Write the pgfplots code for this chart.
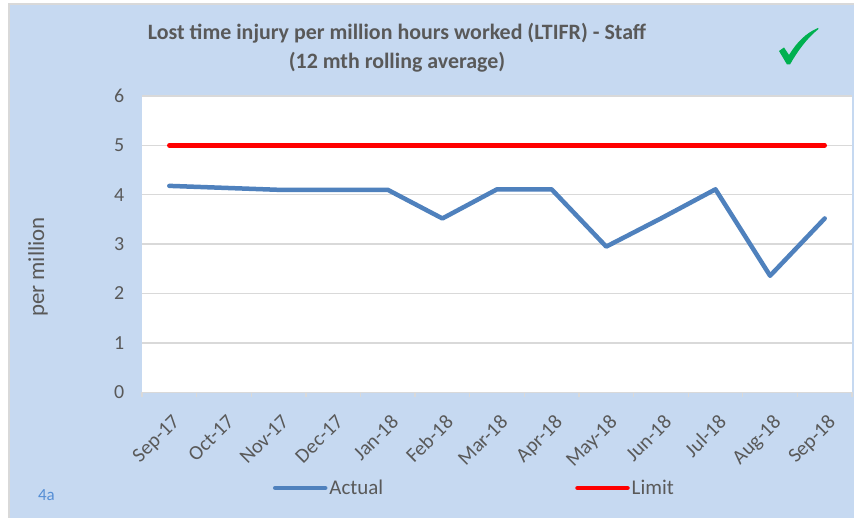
\documentclass[border=0pt]{standalone}
\usepackage{pgfplots}
\pgfplotsset{compat=1.18}
\usepackage{fontspec}
\setmainfont{Carlito}
\definecolor{bgblue}{HTML}{C6D9F1}
\definecolor{actblue}{HTML}{4F81BD}
\definecolor{txtgray}{HTML}{595959}
\definecolor{gridgray}{HTML}{D9D9D9}
\definecolor{chk}{HTML}{00B050}
\definecolor{lbl}{HTML}{558ED5}
\begin{document}
\begin{tikzpicture}[x=1bp,y=1bp]
\useasboundingbox (0,0) rectangle (854,518);
\fill[white] (0,0) rectangle (854,518);
\fill[bgblue] (9,0) rectangle (854,514);
\draw[gridgray, line width=1.5bp] (9,0) -- (9,514) -- (854,514);
\node[font=\fontsize{22}{29}\selectfont\bfseries, text=txtgray, align=center] at (397,470.5)
  {Lost time injury per million hours worked (LTIFR) - Staff\\(12 mth rolling average)};
\node[font=\fontsize{17}{18}\selectfont, text=lbl] at (46.5,23) {4a};
\fill[chk] (779,467) -- (784,470.5) -- (789,463) .. controls (797,476) and (806,485) .. (818,490)
  -- (818.5,489) .. controls (807,480) and (797,466) .. (790,453.5) -- (787,453.5) -- cycle;
\begin{axis}[
  at={(142bp,125.7bp)}, anchor=south west,
  scale only axis, width=710bp, height=296.3bp,
  xmin=-0.5, xmax=12.5, ymin=0, ymax=6,
  axis background/.style={fill=white},
  axis line style={draw=none},
  xtick={0,...,12},
  xticklabels={Sep-17,Oct-17,Nov-17,Dec-17,Jan-18,Feb-18,Mar-18,Apr-18,May-18,Jun-18,Jul-18,Aug-18,Sep-18},
  minor xtick={-0.5,0.5,...,12.5},
  xtick pos=bottom, tick align=outside,
  major x tick style={draw=none},
  minor x tick style={draw=gridgray, line width=1.3bp},
  minor tick length=5bp,
  ytick={0,1,...,6},
  ytick style={draw=none},
  ymajorgrids, grid style={draw=gridgray, line width=1.3bp},
  /pgf/number format/assume math mode=true,
  yticklabel style={font=\fontsize{20}{22}\selectfont, text=txtgray, xshift=-10bp},
  xticklabel style={font=\fontsize{20.5}{22}\selectfont, text=txtgray, xshift=2bp, yshift=-12bp, rotate=45, anchor=north east},
  ylabel={per million},
  ylabel style={at={(axis description cs:-0.1465,0.423)}, anchor=center, font=\fontsize{23}{26}\selectfont, text=txtgray},
  legend columns=2,
  legend style={at={(axis description cs:0.18,-0.323)}, anchor=west, draw=none, fill=none,
    font=\fontsize{21}{24}\selectfont, text=txtgray,
    /tikz/every even column/.append style={column sep=190bp}},
  legend image code/.code={\draw[#1] (0bp,0bp) -- (50bp,0bp);},
]
\addplot[actblue, line width=4.5bp, line join=round, line cap=round] coordinates {
(0,4.18) (1,4.14) (2,4.10) (3,4.10) (4,4.10) (5,3.52) (6,4.11) (7,4.11) (8,2.95) (9,3.52) (10,4.11) (11,2.36) (12,3.52)};
\addlegendentry{Actual}
\addplot[red, line width=4.5bp, line cap=round] coordinates {
(0,5) (1,5) (2,5) (3,5) (4,5) (5,5) (6,5) (7,5) (8,5) (9,5) (10,5) (11,5) (12,5)};
\addlegendentry{Limit}
\end{axis}
\end{tikzpicture}
\end{document}
